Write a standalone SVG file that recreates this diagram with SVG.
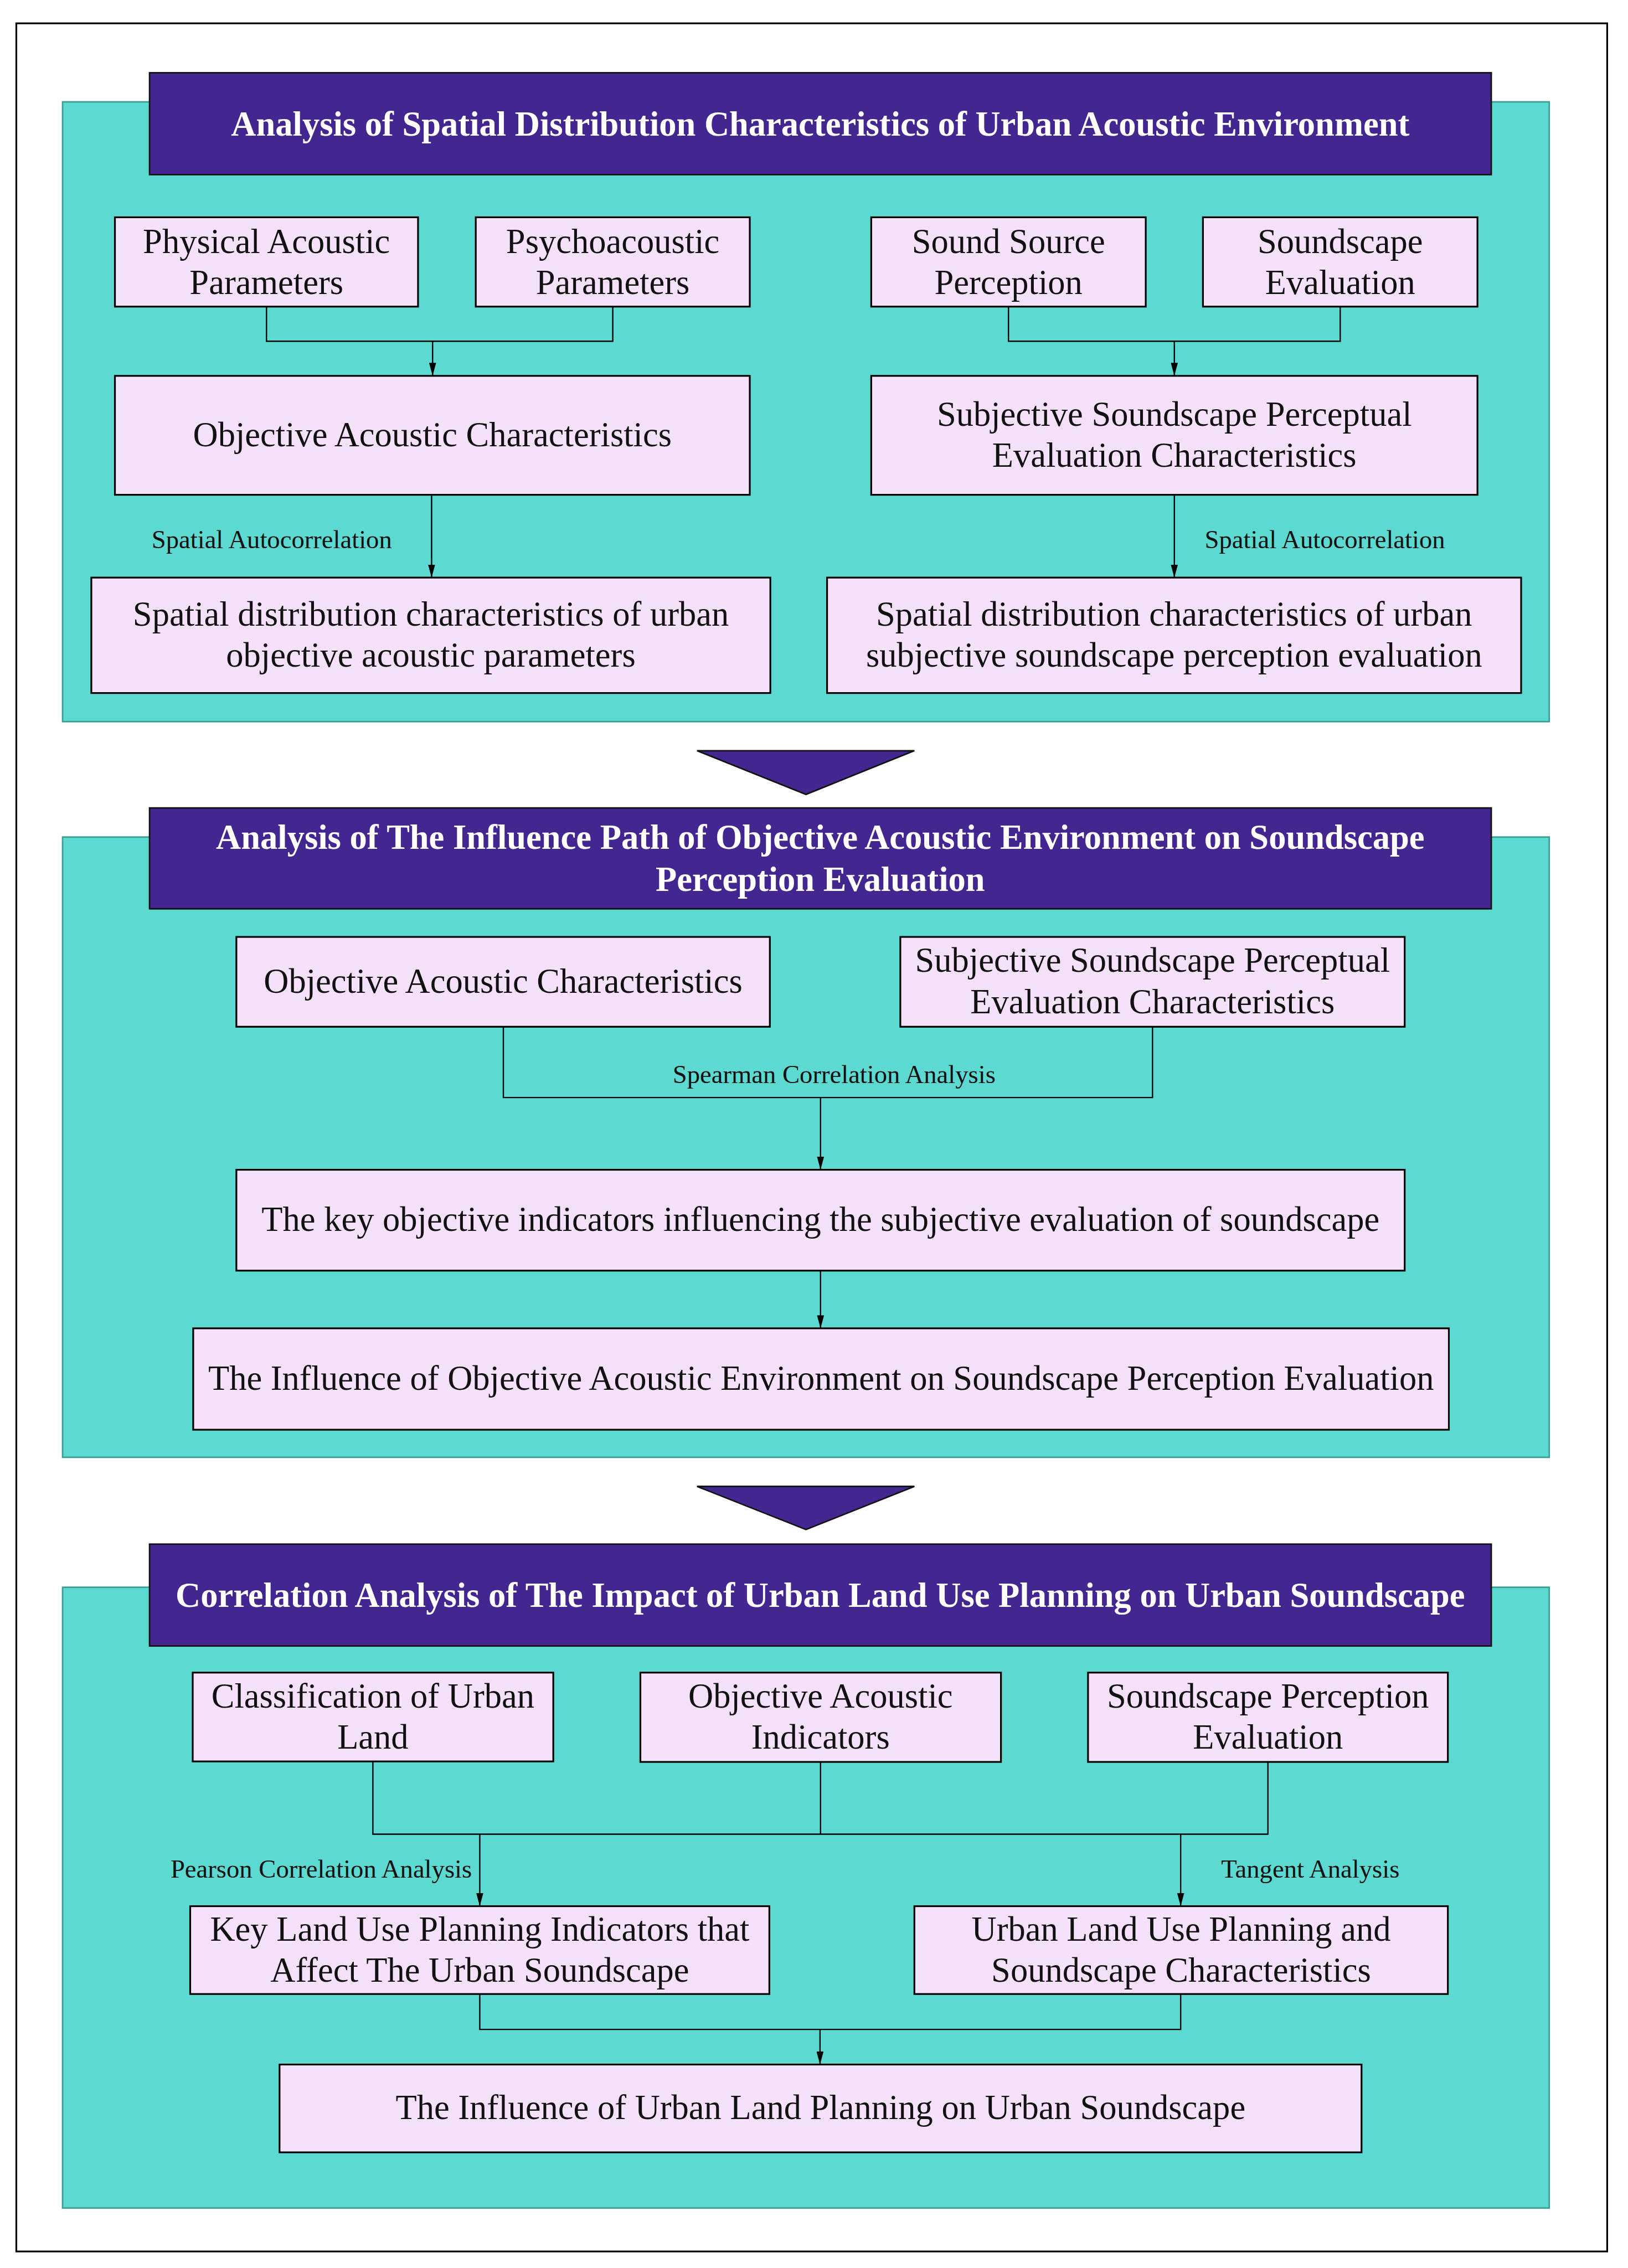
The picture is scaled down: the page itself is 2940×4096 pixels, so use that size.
<svg xmlns="http://www.w3.org/2000/svg" width="2940" height="4096" viewBox="0 0 2940 4096">
<style>
.panel{fill:#5CD9D0;stroke:#3A9E97;stroke-width:3}
.hdr{fill:#43268F;stroke:#111;stroke-width:3}
.node{fill:#F5E1FA;stroke:#000;stroke-width:3.5}
.tri{fill:#43268F;stroke:#111;stroke-width:3}
.ht{font-family:"Liberation Serif","Times New Roman",serif;font-weight:bold;font-size:69px;fill:#fff;text-anchor:middle}
.nt{font-family:"Liberation Serif","Times New Roman",serif;font-size:69px;fill:#111;text-anchor:middle}
.lt{font-family:"Liberation Serif","Times New Roman",serif;font-size:51.5px;fill:#111;text-anchor:middle}
.c{fill:none;stroke:#000;stroke-width:2.6}
</style>
<defs>
<marker id="ah" markerUnits="userSpaceOnUse" markerWidth="26" markerHeight="14" viewBox="0 0 26 14" refX="26" refY="7" orient="auto">
<path d="M0,0 L26,7 L0,14 z" fill="#000"/>
</marker>
</defs>
<rect width="2940" height="4096" fill="#fff"/>
<g transform="scale(0.9063)">
<rect id="frame" x="32.5" y="46.5" width="3170" height="4440" fill="none" stroke="#000" stroke-width="3.5"/>

<!-- Section 1 -->
<g id="section1">
<rect class="panel" x="124.7" y="203" width="2962.3" height="1235"/>
</g>
<g id="header1"><rect class="hdr" x="298" y="145" width="2673.5" height="203"/>
<text class="ht" x="1634.5" y="270">Analysis of Spatial Distribution Characteristics of Urban Acoustic Environment</text></g>

<g id="physical"><rect class="node" x="229" y="433" width="604" height="178"/>
<text class="nt" x="531" y="504">Physical Acoustic</text><text class="nt" x="531" y="586">Parameters</text></g>
<g id="psycho"><rect class="node" x="948" y="433" width="546" height="178"/>
<text class="nt" x="1221" y="504">Psychoacoustic</text><text class="nt" x="1221" y="586">Parameters</text></g>
<g id="soundsource"><rect class="node" x="1736" y="433" width="547" height="178"/>
<text class="nt" x="2009.5" y="504">Sound Source</text><text class="nt" x="2009.5" y="586">Perception</text></g>
<g id="soundscapeeval"><rect class="node" x="2397" y="433" width="547" height="178"/>
<text class="nt" x="2670.5" y="504">Soundscape</text><text class="nt" x="2670.5" y="586">Evaluation</text></g>

<g id="objchar1"><rect class="node" x="229" y="749" width="1265" height="237"/>
<text class="nt" x="861.5" y="889">Objective Acoustic Characteristics</text></g>
<g id="subjchar1"><rect class="node" x="1736" y="749" width="1208" height="237"/>
<text class="nt" x="2340" y="848">Subjective Soundscape Perceptual</text><text class="nt" x="2340" y="930">Evaluation Characteristics</text></g>

<g id="spatialobj"><rect class="node" x="182" y="1151" width="1353" height="230"/>
<text class="nt" x="858.5" y="1247">Spatial distribution characteristics of urban</text><text class="nt" x="858.5" y="1329">objective acoustic parameters</text></g>
<g id="spatialsubj"><rect class="node" x="1648" y="1151" width="1383" height="230"/>
<text class="nt" x="2339.5" y="1247">Spatial distribution characteristics of urban</text><text class="nt" x="2339.5" y="1329">subjective soundscape perception evaluation</text></g>

<g id="arrow1"><polygon class="tri" points="1389,1496 1822,1496 1606,1583"/></g>

<!-- Section 2 -->
<g id="section2"><rect class="panel" x="124.7" y="1668" width="2962.3" height="1236"/></g>
<g id="header2"><rect class="hdr" x="298" y="1610" width="2673.5" height="201"/>
<text class="ht" x="1634.5" y="1692">Analysis of The Influence Path of Objective Acoustic Environment on Soundscape</text>
<text class="ht" x="1634.5" y="1775">Perception Evaluation</text></g>

<g id="objchar2"><rect class="node" x="471" y="1867" width="1063" height="179"/>
<text class="nt" x="1002.5" y="1978">Objective Acoustic Characteristics</text></g>
<g id="subjchar2"><rect class="node" x="1794" y="1867" width="1005" height="179"/>
<text class="nt" x="2296.5" y="1937">Subjective Soundscape Perceptual</text><text class="nt" x="2296.5" y="2019">Evaluation Characteristics</text></g>
<g id="keyobj"><rect class="node" x="471" y="2331" width="2328" height="201"/>
<text class="nt" x="1635" y="2453">The key objective indicators influencing the subjective evaluation of soundscape</text></g>
<g id="influence1"><rect class="node" x="385" y="2647" width="2502" height="202"/>
<text class="nt" x="1636" y="2770">The Influence of Objective Acoustic Environment on Soundscape Perception Evaluation</text></g>

<g id="arrow2"><polygon class="tri" points="1389,2962 1822,2962 1606,3048"/></g>

<!-- Section 3 -->
<g id="section3"><rect class="panel" x="124.7" y="3163" width="2962.3" height="1237"/></g>
<g id="header3"><rect class="hdr" x="298" y="3077" width="2673.5" height="203"/>
<text class="ht" x="1634.5" y="3202">Correlation Analysis of The Impact of Urban Land Use Planning on Urban Soundscape</text></g>

<g id="classification"><rect class="node" x="384" y="3333" width="718.5" height="177"/>
<text class="nt" x="743" y="3403">Classification of Urban</text><text class="nt" x="743" y="3485">Land</text></g>
<g id="objind"><rect class="node" x="1276" y="3333" width="718.5" height="178"/>
<text class="nt" x="1635" y="3403">Objective Acoustic</text><text class="nt" x="1635" y="3485">Indicators</text></g>
<g id="spe"><rect class="node" x="2168" y="3333" width="717" height="178"/>
<text class="nt" x="2526.5" y="3403">Soundscape Perception</text><text class="nt" x="2526.5" y="3485">Evaluation</text></g>

<g id="keyland"><rect class="node" x="379" y="3798.5" width="1154" height="175"/>
<text class="nt" x="956" y="3867">Key Land Use Planning Indicators that</text><text class="nt" x="956" y="3949">Affect The Urban Soundscape</text></g>
<g id="urbanland"><rect class="node" x="1822" y="3798.5" width="1063" height="175"/>
<text class="nt" x="2353.5" y="3867">Urban Land Use Planning and</text><text class="nt" x="2353.5" y="3949">Soundscape Characteristics</text></g>
<g id="influence2"><rect class="node" x="557" y="4114" width="2156" height="175"/>
<text class="nt" x="1635" y="4223">The Influence of Urban Land Planning on Urban Soundscape</text></g>

<!-- Connectors -->
<g id="connectors">
<path class="c" d="M531,611 V680 H1221 V611"/>
<path class="c" d="M862,680 V749" marker-end="url(#ah)"/>
<path class="c" d="M2009.5,611 V680 H2670.5 V611"/>
<path class="c" d="M2340,680 V749" marker-end="url(#ah)"/>
<path class="c" d="M860,986 V1151" marker-end="url(#ah)"/>
<path class="c" d="M2340,986 V1151" marker-end="url(#ah)"/>
<text class="lt" x="541.5" y="1092">Spatial Autocorrelation</text>
<text class="lt" x="2640" y="1092">Spatial Autocorrelation</text>

<path class="c" d="M1003,2046 V2187 H2296.5 V2046"/>
<path class="c" d="M1635,2187 V2331" marker-end="url(#ah)"/>
<text class="lt" x="1662" y="2158">Spearman Correlation Analysis</text>
<path class="c" d="M1635,2532 V2647" marker-end="url(#ah)"/>

<path class="c" d="M743,3510 V3655 H2526.5 V3511"/>
<path class="c" d="M1635,3511 V3655"/>
<path class="c" d="M956,3655 V3798.5" marker-end="url(#ah)"/>
<path class="c" d="M2352.6,3655 V3798.5" marker-end="url(#ah)"/>
<text class="lt" x="640" y="3742">Pearson Correlation Analysis</text>
<text class="lt" x="2611" y="3742">Tangent Analysis</text>
<path class="c" d="M956,3973.5 V4044 H2352.6 V3973.5"/>
<path class="c" d="M1634,4044 V4114" marker-end="url(#ah)"/>
</g>
</g>
</svg>
